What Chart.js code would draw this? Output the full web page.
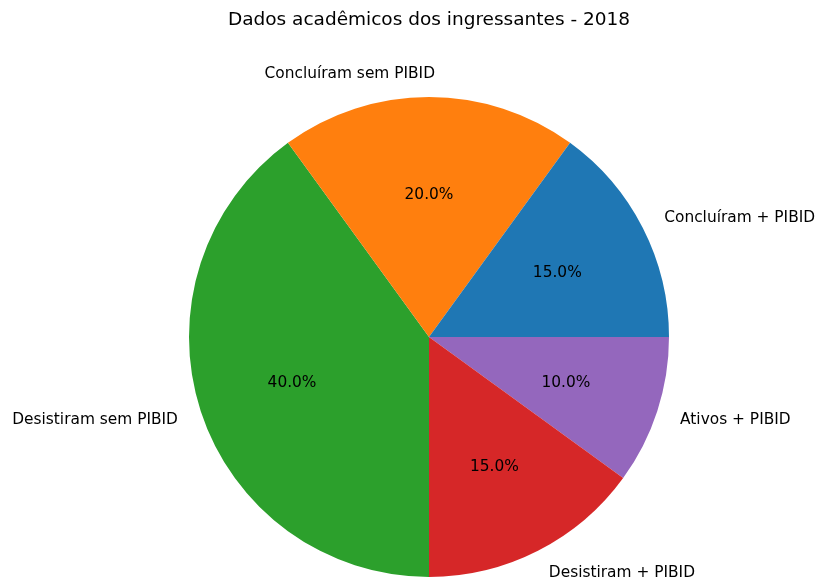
<!DOCTYPE html>
<html>
<head>
<meta charset="utf-8">
<script src="https://cdn.jsdelivr.net/npm/chart.js@4"></script>
<style>
html,body{margin:0;padding:0;background:#fff;}
#wrap{width:815px;height:582px;position:relative;}
</style>
</head>
<body>
<div id="wrap"><canvas id="c"></canvas></div>
<script>
// Data (matplotlib order: counterclockwise starting at east)
const categories = ["Concluíram + PIBID", "Concluíram sem PIBID", "Desistiram sem PIBID", "Desistiram + PIBID", "Ativos + PIBID"];
const values = [15, 20, 40, 15, 10];
const colors = ["#1f77b4", "#ff7f0e", "#2ca02c", "#d62728", "#9467bd"];
const titleText = "Dados acadêmicos dos ingressantes - 2018";

// Chart.js draws clockwise, so reverse to mimic counterclockwise
const rLabels = categories.slice().reverse();
const rValues = values.slice().reverse();
const rColors = colors.slice().reverse();

const FONT = "'DejaVu Sans', sans-serif";

const pieText = {
  id: 'pieText',
  afterDatasetsDraw(chart) {
    const ctx = chart.ctx;
    const meta = chart.getDatasetMeta(0);
    const data = chart.data.datasets[0].data;
    const total = data.reduce((a, b) => a + b, 0);
    ctx.save();
    ctx.fillStyle = '#000';
    ctx.font = '15.4px ' + FONT;
    ctx.textBaseline = 'middle';
    meta.data.forEach((arc, i) => {
      const p = arc.getProps(['x', 'y', 'startAngle', 'endAngle', 'outerRadius'], true);
      const mid = (p.startAngle + p.endAngle) / 2;
      const c = Math.cos(mid), s = Math.sin(mid);
      // percentage
      ctx.textAlign = 'center';
      ctx.fillText((data[i] / total * 100).toFixed(1) + '%', p.x + 0.6 * p.outerRadius * c, p.y + 0.6 * p.outerRadius * s + 1.5);
      // category label
      const lx = p.x + 1.1 * p.outerRadius * c;
      const ly = p.y + 1.1 * p.outerRadius * s + 1;
      const nearVertical = Math.abs(c) < 1e-6;
      ctx.textAlign = c > 1e-6 ? 'left' : 'right';
      ctx.fillText(chart.data.labels[i], nearVertical ? lx + 6 : lx, ly);
    });
    ctx.restore();
  }
};

new Chart(document.getElementById('c'), {
  type: 'pie',
  data: {
    labels: rLabels,
    datasets: [{
      data: rValues,
      backgroundColor: rColors,
      borderWidth: 0,
      hoverOffset: 0
    }]
  },
  options: {
    responsive: true,
    maintainAspectRatio: false,
    animation: false,
    rotation: 90,
    layout: { padding: { left: 189, right: 146, top: 0, bottom: 5 } },
    plugins: {
      legend: { display: false },
      tooltip: { enabled: false },
      title: {
        display: true,
        text: titleText,
        color: '#000',
        font: { family: FONT, size: 18.5, weight: 'normal', lineHeight: 1.2 },
        padding: { top: 9, bottom: 65.8 }
      }
    }
  },
  plugins: [pieText]
});
</script>
</body>
</html>
